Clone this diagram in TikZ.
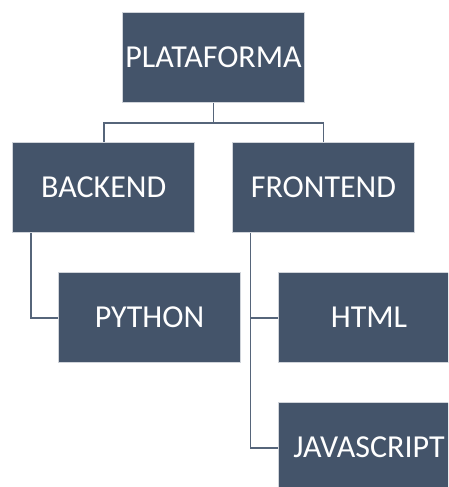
\documentclass[tikz,border=0pt]{standalone}
\usepackage{fontspec}
\setmainfont{Carlito}
\definecolor{boxfill}{HTML}{44546A}
\definecolor{boxline}{HTML}{D0D4DA}
\definecolor{linkline}{HTML}{56657A}
\tikzset{
  orgbox/.style={draw=boxline, line width=0.8pt, fill=boxfill, text=white,
    minimum width=182pt, minimum height=90pt, inner sep=0pt,
    font=\fontsize{32}{38}\selectfont},
  link/.style={draw=linkline, line width=1.8pt}
}
\begin{document}
\begin{tikzpicture}[x=1pt,y=-1pt]
  \useasboundingbox (0,0) rectangle (448,487);
  \clip (0,0) rectangle (448,487);
  \node [orgbox] (plataforma) at (213.5,57.7) {PLATAFORMA};
  \node [orgbox] (backend) at (103.7,187.7) {BACKEND};
  \node [orgbox] (frontend) at (323.5,187.7) {FRONTEND};
  \node [orgbox] (python) at (149.5,317.7) {PYTHON};
  \node [orgbox] (html) at (369,317.7) {HTML};
  \node [orgbox] (javascript) at (369,447.7) {JAVASCRIPT};
  % first level
  \draw [link] (plataforma.south) -- ++(0,20) -| (backend.north);
  \draw [link] (plataforma.south) -- ++(0,20) -| (frontend.north);
  % second level
  \draw [link] ([xshift=18.3pt]backend.south west) |- (python.west);
  \draw [link] ([xshift=18.3pt]frontend.south west) |- (html.west);
  \draw [link] ([xshift=18.3pt]frontend.south west) |- (javascript.west);
\end{tikzpicture}
\end{document}
